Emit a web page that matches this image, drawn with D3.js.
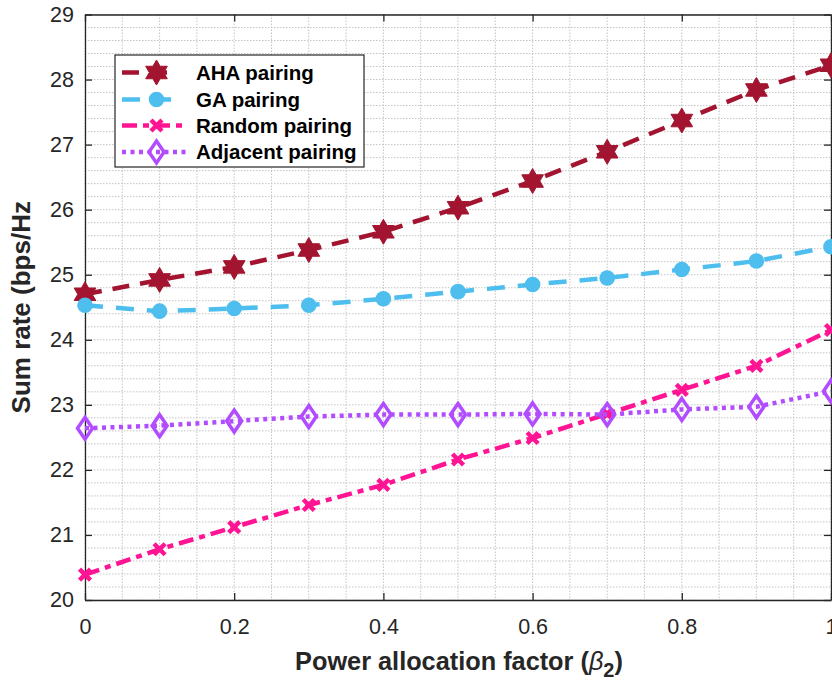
<!DOCTYPE html>
<html><head><meta charset="utf-8">
<script src="https://cdn.jsdelivr.net/npm/d3@7"></script>
<style>
html,body{margin:0;padding:0;background:#fff;overflow:hidden;}
text{font-family:"Liberation Sans",Arial,Helvetica,sans-serif;}
</style></head>
<body><svg id="c" width="832" height="681"></svg>
<script>
const xValues = [0,0.1,0.2,0.3,0.4,0.5,0.6,0.7,0.8,0.9,1.0];
const ahaValues = [24.70,24.92,25.12,25.38,25.66,26.03,26.44,26.89,27.37,27.84,28.22];
const gaValues = [24.53,24.44,24.48,24.53,24.63,24.74,24.85,24.95,25.08,25.21,25.43];
const randomValues = [20.39,20.78,21.12,21.46,21.77,22.16,22.49,22.86,23.23,23.60,24.15];
const adjacentValues = [22.64,22.68,22.75,22.82,22.85,22.85,22.86,22.85,22.93,22.97,23.21];
const seriesNames = ["AHA pairing","GA pairing","Random pairing","Adjacent pairing"];
const xTicks = [0,0.2,0.4,0.6,0.8,1];
const yTicks = [20,21,22,23,24,25,26,27,28,29];
const xTickLabels = ["0","0.2","0.4","0.6","0.8","1"];
const yDomain = [20,29];
const xDomain = [0,1];

const svg = d3.select("#c");
const L=85, R=831, T=14.5, B=600;
const x = d3.scaleLinear().domain(xDomain).range([L,R]);
const y = d3.scaleLinear().domain(yDomain).range([B,T]);

// grid
const g = svg.append("g");
const xMinor = d3.range(0,1.0001,0.05);
const yMinor = d3.range(20,29.0001,0.2);
g.selectAll(".gx").data(xMinor).enter().append("line")
  .attr("x1",d=>x(d)).attr("x2",d=>x(d)).attr("y1",T).attr("y2",B)
  .attr("stroke","#c4c4c4").attr("stroke-width",1).attr("stroke-dasharray","1.5,1.5");
g.selectAll(".gy").data(yMinor).enter().append("line")
  .attr("y1",d=>y(d)).attr("y2",d=>y(d)).attr("x1",L).attr("x2",R)
  .attr("stroke","#c4c4c4").attr("stroke-width",1).attr("stroke-dasharray","1.5,1.5");

// axes
const axCol="#262626";
const xb = svg.append("g").attr("transform",`translate(0,${B})`)
  .call(d3.axisBottom(x).tickValues(xTicks).tickFormat((d,i)=>xTickLabels[i]).tickSizeInner(-7).tickSizeOuter(0).tickPadding(19));
const xt = svg.append("g").attr("transform",`translate(0,${T})`)
  .call(d3.axisTop(x).tickValues(xTicks).tickFormat("").tickSizeInner(-7).tickSizeOuter(0));
const yl = svg.append("g").attr("transform",`translate(${L},0)`)
  .call(d3.axisLeft(y).tickValues(yTicks).tickSizeInner(-7).tickSizeOuter(0).tickPadding(11));
const yr = svg.append("g").attr("transform",`translate(${R},0)`)
  .call(d3.axisRight(y).tickValues(yTicks).tickFormat("").tickSizeInner(-7).tickSizeOuter(0));
[xb,xt,yl,yr].forEach(a=>{
  a.select(".domain").attr("stroke",axCol).attr("stroke-width",1.3);
  a.selectAll(".tick line").attr("stroke",axCol).attr("stroke-width",1.3);
  a.selectAll("text").attr("fill",axCol).style("font-size","21.5px").style("font-family","'Liberation Sans',Arial,sans-serif");
});

// series
const hexagram = (R0)=>{
  const pts=[];
  for(let i=0;i<12;i++){
    const r = i%2===0?R0:R0/Math.sqrt(3);
    const a = -Math.PI/2 + i*Math.PI/6;
    pts.push([r*Math.cos(a), r*Math.sin(a)]);
  }
  return "M"+pts.map(p=>p.join(",")).join("L")+"Z";
};
const series = [
  {name:seriesNames[0], vals:ahaValues, color:"#A2142F", dash:"17,11", w:4.5, marker:"hex"},
  {name:seriesNames[1], vals:gaValues, color:"#4DBEEE", dash:"18,13", w:4.5, marker:"circle"},
  {name:seriesNames[2], vals:randomValues, color:"#FF1493", dash:"15,6,6,6", w:4.5, marker:"x"},
  {name:seriesNames[3], vals:adjacentValues, color:"#B24CFF", dash:"4,4.5", w:4.5, marker:"diamond"}
];
function drawMarker(sel, m, color){
  if(m==="hex"){
    sel.append("path").attr("d",hexagram(12.5)).attr("fill",color).attr("stroke",color).attr("stroke-width",1);
  } else if(m==="circle"){
    sel.append("circle").attr("r",7.8).attr("fill",color);
  } else if(m==="x"){
    sel.append("path").attr("d","M-5.5,-5.5L5.5,5.5M-5.5,5.5L5.5,-5.5").attr("stroke",color).attr("stroke-width",4.5).attr("fill","none");
  } else if(m==="diamond"){
    sel.append("path").attr("d","M0,-11L7.5,0L0,11L-7.5,0Z").attr("stroke",color).attr("stroke-width",3.5).attr("fill","none");
  }
}
const line = d3.line().x((d,i)=>x(xValues[i])).y(d=>y(d));
const pg = svg.append("g");
series.forEach(s=>{
  pg.append("path").datum(s.vals).attr("d",line).attr("fill","none")
    .attr("stroke",s.color).attr("stroke-width",s.w).attr("stroke-dasharray",s.dash);
  s.vals.forEach((v,i)=>{
    const mg = pg.append("g").attr("transform",`translate(${x(xValues[i])},${y(v)})`);
    drawMarker(mg, s.marker, s.color);
  });
});

// legend
const lg = svg.append("g");
lg.append("rect").attr("x",115).attr("y",55).attr("width",249).attr("height",112)
  .attr("fill","#fff").attr("stroke",axCol).attr("stroke-width",1.2);
const rowsY=[72.5,99.5,125.5,152];
series.forEach((s,i)=>{
  const yy=rowsY[i];
  const x2 = i<2?177:188;
  lg.append("line").attr("x1",122).attr("x2",x2).attr("y1",yy).attr("y2",yy)
    .attr("stroke",s.color).attr("stroke-width",s.w).attr("stroke-dasharray",s.dash);
  const mg = lg.append("g").attr("transform",`translate(156.5,${yy})`);
  drawMarker(mg, s.marker, s.color);
  lg.append("text").attr("x",196).attr("y",yy+7).text(s.name)
    .style("font-size","20.5px").style("font-weight","bold").attr("fill","#000");
});

// axis titles
const xl = svg.append("text").attr("x",(L+R)/2+1).attr("y",670).attr("text-anchor","middle")
  .style("font-size","25.3px").style("font-weight","bold").attr("fill",axCol);
xl.append("tspan").text("Power allocation factor (");
xl.append("tspan").text("β").style("font-style","italic").style("font-weight","normal");
xl.append("tspan").text("2").attr("baseline-shift","-35%").style("font-size","20px");
xl.append("tspan").text(")");
svg.append("text").attr("transform",`translate(30,${(T+B)/2}) rotate(-90)`).attr("text-anchor","middle")
  .style("font-size","26px").style("font-weight","bold").attr("fill",axCol).text("Sum rate (bps/Hz");
</script></body></html>
